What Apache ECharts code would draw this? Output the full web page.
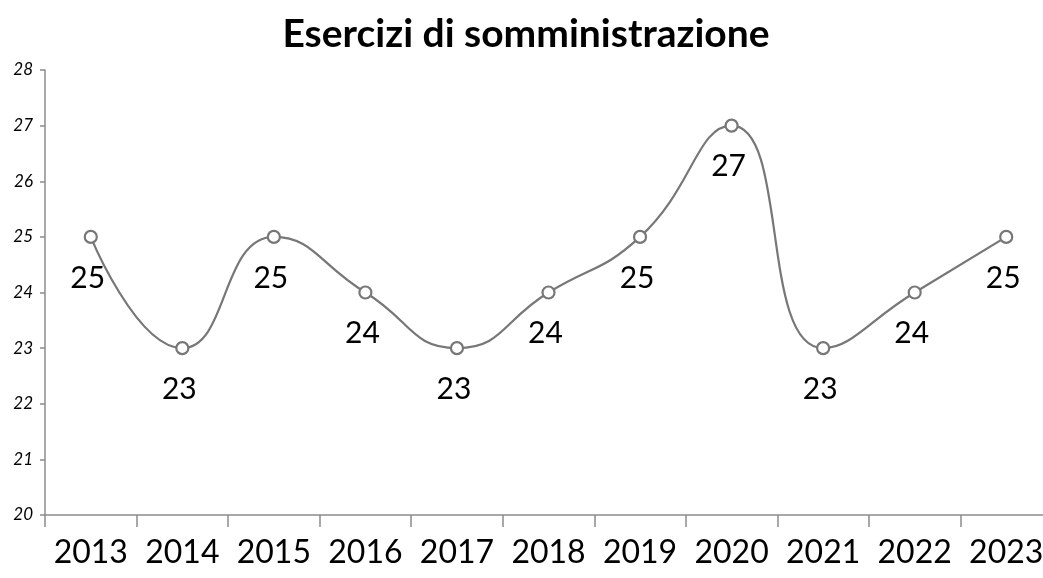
<!DOCTYPE html>
<html><head><meta charset="utf-8">
<script src="https://cdn.jsdelivr.net/npm/echarts@6/dist/echarts.min.js"></script>
<style>html,body{margin:0;padding:0;background:#fff;overflow:hidden}#c{width:1052px;height:578px}</style>
</head><body><div id="c"></div>
<script>
const titleText = "Esercizi di somministrazione";
const years = ["2013","2014","2015","2016","2017","2018","2019","2020","2021","2022","2023"];
const values = [25,23,25,24,23,24,25,27,23,24,25];
const yMin = 20, yMax = 28, yStep = 1;

const chart = echarts.init(document.getElementById('c'));
chart.setOption({
  animation:false,
  backgroundColor:'#fff',
  title:{text:titleText,left:'center',top:10,padding:[5,0,5,14],
    textStyle:{fontFamily:'Lato',fontWeight:'bold',fontSize:39,color:'#000'}},
  grid:{left:45,top:70,bottom:63,right:0,containLabel:false},
  xAxis:{type:'category',data:years,boundaryGap:true,
    axisLine:{lineStyle:{color:'#8c8c8c',width:1.5}},
    axisTick:{show:true,length:12,lineStyle:{color:'#8c8c8c',width:1.5},alignWithLabel:false},
    axisLabel:{fontFamily:'Lato',fontSize:32,color:'#000',margin:22,interval:0},
    splitLine:{show:false}},
  yAxis:{type:'value',min:yMin,max:yMax,interval:yStep,
    axisLine:{show:true,lineStyle:{color:'#8c8c8c',width:1.5}},
    axisTick:{show:true,length:5,lineStyle:{color:'#8c8c8c',width:1.5}},
    axisLabel:{fontFamily:'Lato',fontStyle:'italic',fontSize:17,color:'#000',margin:12},
    splitLine:{show:false}},
  series:[{type:'line',data:values,smooth:0.5,smoothConstraint:false,
    symbol:'circle',symbolSize:12,
    lineStyle:{color:'#777777',width:2.2},
    itemStyle:{color:'#fff',borderColor:'#777777',borderWidth:2.2},
    label:{show:true,position:'bottom',distance:19,offset:[-3,0],
      fontFamily:'Lato',fontSize:30,color:'#000'}}]
});
</script></body></html>
